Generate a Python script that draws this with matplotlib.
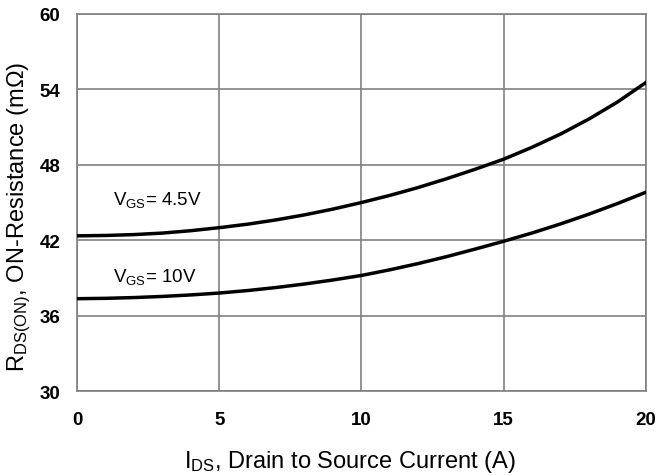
import matplotlib
matplotlib.use("Agg")
import matplotlib.pyplot as plt

plt.rcParams["font.family"] = ["Liberation Sans", "DejaVu Sans"]
plt.rcParams["mathtext.fontset"] = "custom"
plt.rcParams["mathtext.rm"] = "Liberation Sans"
plt.rcParams["mathtext.it"] = "Liberation Sans"

# drain current (A)
ids = [0, 1, 2, 3, 4, 5, 6, 7, 8, 9, 10, 11, 12, 13, 14, 15, 16, 17, 18, 19, 20]
# on-resistance (mOhm)
rds_45v = [42.35, 42.38, 42.45, 42.57, 42.76, 43.0, 43.28, 43.62, 44.02, 44.48,
           45.0, 45.57, 46.2, 46.9, 47.65, 48.45, 49.4, 50.45, 51.65, 53.0, 54.55]
rds_10v = [37.35, 37.38, 37.44, 37.53, 37.65, 37.8, 38.0, 38.24, 38.52, 38.84,
           39.2, 39.65, 40.15, 40.7, 41.3, 41.92, 42.58, 43.3, 44.08, 44.92, 45.82]

x_ticks = [0, 5, 10, 15, 20]
y_ticks = [30, 36, 42, 48, 54, 60]

grid_color = "#808080"


def main():
    fig = plt.figure(figsize=(6.6, 4.77), dpi=100)
    ax = fig.add_axes([0.1167, 0.178, 0.862, 0.7906])

    ax.plot(ids, rds_45v, color="black", lw=2.5, zorder=3)
    ax.plot(ids, rds_10v, color="black", lw=2.5, zorder=3)

    ax.set_xlim(0, 20)
    ax.set_ylim(30, 60)
    ax.set_xticks(x_ticks)
    ax.set_yticks(y_ticks)
    ax.grid(True, color=grid_color, lw=1.2)
    ax.set_axisbelow(True)
    for s in ax.spines.values():
        s.set_color(grid_color)
        s.set_linewidth(1.2)

    ax.tick_params(length=0, labelsize=13.5)
    ax.tick_params(axis="y", pad=12)
    ax.tick_params(axis="x", pad=14)
    for lab in ax.get_xticklabels() + ax.get_yticklabels():
        lab.set_fontweight("bold")

    box = dict(facecolor="white", edgecolor="none", pad=4)
    ax.text(1.25, 44.88, r"V$_{\mathrm{GS}}$= 4.5V", fontsize=13.5,
            ha="left", va="baseline", bbox=box, zorder=2)
    ax.text(1.25, 38.76, r"V$_{\mathrm{GS}}$= 10V", fontsize=13.5,
            ha="left", va="baseline", bbox=box, zorder=2)

    fig.text(350 / 660, 1 - 468 / 477,
             r"I$_{\mathrm{DS}}$, Drain to Source Current (A)",
             fontsize=17, ha="center", va="baseline")
    fig.text(6 / 660, 1 - 217 / 477,
             r"R$_{\mathrm{DS(ON)}}$, ON-Resistance (m$\Omega$)",
             fontsize=17, rotation=90, ha="left", va="center")

    fig.savefig("out.png", dpi=100)
    plt.close(fig)


if __name__ == "__main__":
    main()
